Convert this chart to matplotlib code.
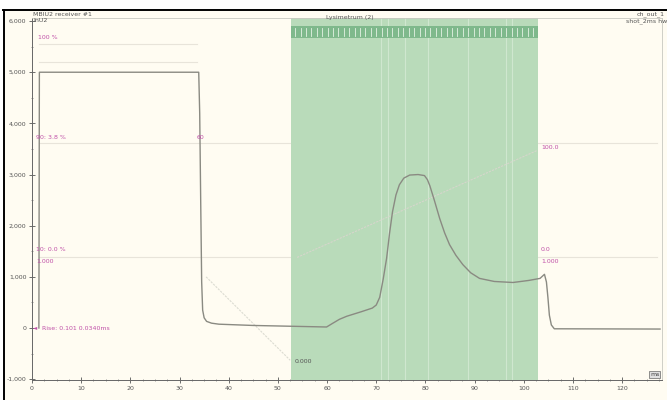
import numpy as np
import matplotlib
matplotlib.use('Agg')
import matplotlib.pyplot as plt
import matplotlib.ticker as mtick
from matplotlib.lines import Line2D
from matplotlib.patches import Rectangle

# signal trace (ms, value)
sig_x = [1.4, 1.5, 33.9, 34.1, 34.3, 34.5, 34.7, 35.0, 35.5, 36.5, 38.0, 45.0, 55.0,
         59.9, 61.1, 62.5, 64.0, 67.0, 69.2, 70.0, 70.7, 71.4, 72.1, 72.7, 73.3,
         74.0, 74.7, 75.6, 76.8, 78.5, 79.8, 80.4, 80.9, 81.8, 82.9, 83.9, 84.9,
         86.2, 87.6, 89.2, 91.0, 94.0, 97.8, 101.0, 103.3, 104.2, 104.6, 104.9,
         105.2, 105.6, 106.2, 127.7]
sig_y = [0, 5000, 5000, 4200, 2500, 900, 350, 200, 130, 95, 75, 50, 30,
         20, 90, 170, 230, 320, 390, 450, 600, 950, 1360, 1850, 2270,
         2600, 2800, 2930, 2990, 3000, 2980, 2900, 2780, 2500, 2140, 1860, 1630,
         1420, 1240, 1080, 970, 910, 890, 930, 970, 1050, 900, 600,
         250, 60, -15, -20]

# shaded window and the lines inside it
win_start, win_end = 52.7, 102.9
win_lines = [71.0, 72.4, 75.8, 80.5, 88.6, 96.3, 97.7]
band_marks = np.arange(53.5, 102.5, 1.1)

# reference levels
ref_levels = [(3610, 1.4, 127.0), (1390, 1.4, 127.0), (5560, 1.4, 33.5), (5200, 1.4, 33.5)]
diag_a = ([53.9, 102.7], [1380, 3470])
diag_b = ([35.4, 52.5], [1000, -630])

labels = [
    (1.2, 5680, '100 %'), (0.8, 3720, '90: 3.8 %'), (33.4, 3720, '60'),
    (0.8, 1530, '10: 0.0 %'), (0.8, 1310, '1.000'),
    (103.5, 3520, '100.0'), (103.5, 1540, '0.0'), (103.5, 1310, '1.000'),
]
rise_label = 'Rise: 0.101 0.0340ms'

x_ticks = list(range(0, 130, 10))
y_ticks = [-1000, 0, 1000, 2000, 3000, 4000, 5000, 6000]
y_tick_labels = ['-1,000', '0', '1,000', '2,000', '3,000', '4,000', '5,000', '6,000']

bg = '#fffcf2'
pink = '#c050a8'
grey = '#8a8a82'

fig = plt.figure(figsize=(6.67, 4.0), dpi=100, facecolor=bg)
ax = fig.add_axes([32 / 667, 20 / 400, 630 / 667, 362 / 400])
ax.set_facecolor(bg)

ax.set_xlim(0, 128.1)
ax.set_ylim(-1016, 6060)

for lv, x0, x1 in ref_levels:
    ax.plot([x0, x1], [lv, lv], color='#e8e4da', lw=0.8, zorder=1)

ax.axvspan(win_start, win_end, color='#b9dbba', lw=0, zorder=2)
for vx in win_lines:
    ax.axvline(vx, color='#cfe7cf', lw=0.8, zorder=2.1)
ax.add_patch(Rectangle((win_start, 5670), win_end - win_start, 230,
                       facecolor='#7fb98c', edgecolor='none', zorder=2.2))
for bx in band_marks:
    ax.plot([bx, bx], [5700, 5870], color='#e4f2e4', lw=0.6, zorder=2.3)

ax.plot(*diag_a, color='#d6d6cc', lw=0.8, ls=(0, (2, 1)), zorder=3)
ax.plot(*diag_b, color='#dcdcd2', lw=0.8, ls=(0, (2, 1)), zorder=3)

ax.plot(sig_x, sig_y, color=grey, lw=1.0, zorder=4, solid_joinstyle='round')

for lx, ly, t in labels:
    ax.text(lx, ly, t, color=pink, fontsize=4.5, va='center', zorder=5)
ax.text(0.3, 0, '\u25c4', color=pink, fontsize=4, va='center', zorder=5)
ax.text(2.0, 0, rise_label, color=pink, fontsize=4.5, va='center', zorder=5)
ax.text(53.3, -660, '0.000', color='#555555', fontsize=4.5, va='center', zorder=5)
ax.text(127.6, -900, 'ms', color='#444444', fontsize=4.5, ha='right', va='center',
        bbox=dict(boxstyle='square,pad=0.15', fc='#e0e0e0', ec='#666666', lw=0.5), zorder=5)

ax.set_xticks(x_ticks)
ax.set_yticks(y_ticks)
ax.set_yticklabels(y_tick_labels)
ax.xaxis.set_minor_locator(mtick.MultipleLocator(2.5))
ax.yaxis.set_minor_locator(mtick.MultipleLocator(500))
ax.tick_params(axis='both', which='major', labelsize=4.5, colors='#555555',
               direction='inout', length=4, width=0.6, pad=2)
ax.tick_params(axis='both', which='minor', colors='#777777', direction='inout',
               length=2, width=0.5)
for s in ['top', 'right']:
    ax.spines[s].set_color('#c8c8c0')
    ax.spines[s].set_linewidth(0.6)
for s in ['left', 'bottom']:
    ax.spines[s].set_color('#666666')
    ax.spines[s].set_linewidth(0.7)

# header texts
fig.text(33 / 667, 1 - 14 / 400, 'MBIU2 receiver #1', fontsize=4.5, color='#555555', va='center')
fig.text(33 / 667, 1 - 21 / 400, 'InU2', fontsize=4.5, color='#555555', va='center')
fig.text(350 / 667, 1 - 17 / 400, 'Lysimetrum (2)', fontsize=4.5, color='#555555',
         ha='center', va='center')
fig.text(665 / 667, 1 - 14 / 400, 'ch_out_1', fontsize=4.5, color='#555555', ha='right', va='center')
fig.text(667 / 667, 1 - 21 / 400, 'shot_2ms hw', fontsize=4.5, color='#555555', ha='right', va='center')

# white margin and black frame
fig.patches.append(Rectangle((0, 1 - 10 / 400), 1, 10 / 400, transform=fig.transFigure,
                             facecolor='white', edgecolor='none', zorder=0))
fig.patches.append(Rectangle((0, 0), 3 / 667, 1, transform=fig.transFigure,
                             facecolor='white', edgecolor='none', zorder=0))
fig.add_artist(Line2D([3 / 667, 1], [1 - 10 / 400, 1 - 10 / 400], color='black', lw=1.4))
fig.add_artist(Line2D([4 / 667, 4 / 667], [0, 1 - 10 / 400], color='black', lw=1.4))

fig.savefig('out.png', dpi=100, facecolor=bg)
